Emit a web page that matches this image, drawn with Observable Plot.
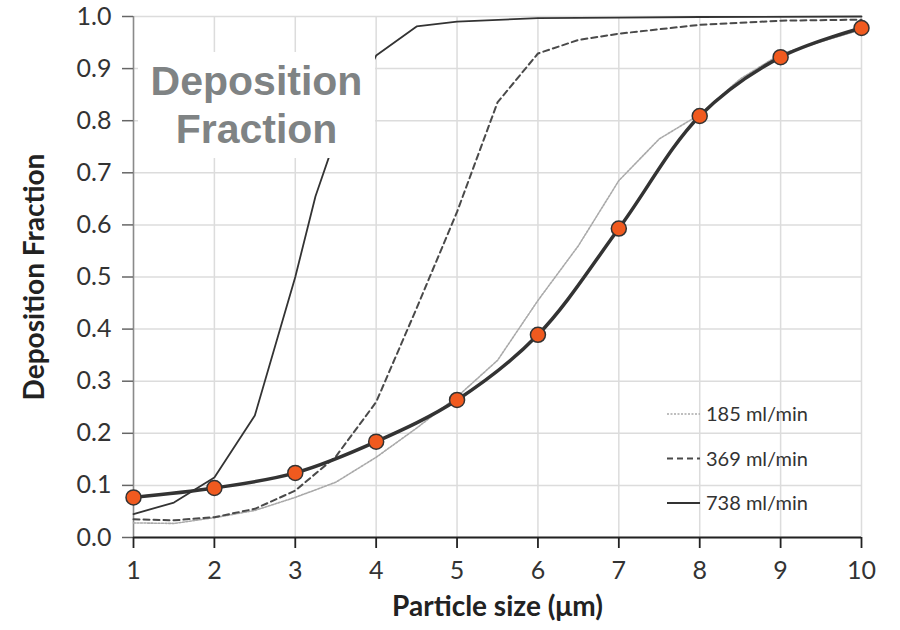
<!DOCTYPE html>
<html><head><meta charset="utf-8">
<script src="https://cdn.jsdelivr.net/npm/d3@7"></script>
<script src="https://cdn.jsdelivr.net/npm/@observablehq/plot@0.6"></script>
<style>
body{margin:0;background:#fff;}
#wrap{position:relative;width:900px;height:630px;overflow:hidden;}
#box{position:absolute;left:138px;top:52px;width:237px;height:106px;background:#fff;
 font-family:"Liberation Sans",Arial,sans-serif;font-weight:bold;font-size:41px;line-height:48px;
 color:#7f8384;text-align:center;padding-top:5px;box-sizing:border-box;}
</style>
</head><body><div id="wrap"></div>
<script>
// ---- data ----
const xTicks = [1, 2, 3, 4, 5, 6, 7, 8, 9, 10];
const yTicks = [0, 0.1, 0.2, 0.3, 0.4, 0.5, 0.6, 0.7, 0.8, 0.9, 1.0];

const fitSizes  = [1, 2, 3, 4, 5, 6, 7, 8, 9, 10];
const fitValues = [0.077, 0.095, 0.124, 0.184, 0.264, 0.389, 0.593, 0.809, 0.922, 0.978];

const sizes185  = [1, 1.5, 2, 2.5, 3, 3.5, 4, 4.5, 5, 5.5, 6, 6.5, 7, 7.5, 8, 8.5, 9, 10];
const values185 = [0.028, 0.027, 0.038, 0.052, 0.077, 0.106, 0.154, 0.21, 0.27, 0.34, 0.455, 0.56, 0.685, 0.765, 0.812, 0.88, 0.928, 0.975];

const sizes369  = [1, 1.5, 2, 2.5, 3, 3.5, 4, 4.5, 5, 5.5, 6, 6.5, 7, 8, 9, 10];
const values369 = [0.035, 0.033, 0.039, 0.055, 0.09, 0.155, 0.26, 0.44, 0.625, 0.835, 0.929, 0.955, 0.967, 0.984, 0.992, 0.994];

const sizes738  = [1, 1.5, 2, 2.5, 3, 3.25, 3.5, 4, 4.5, 5, 6, 7, 8, 10];
const values738 = [0.045, 0.067, 0.115, 0.234, 0.5, 0.655, 0.768, 0.925, 0.981, 0.99, 0.997, 0.998, 0.999, 1.0];

const seriesNames = ["185 ml/min", "369 ml/min", "738 ml/min"];
const xTitle = "Particle size (μm)";
const yTitle = "Deposition Fraction";
const boxTitle = ["Deposition", "Fraction"];

// ---- build tables ----
const rows = (xs, ys) => xs.map((x, i) => ({size: x, value: ys[i]}));
const fit = rows(fitSizes, fitValues);
const s185 = rows(sizes185, values185);
const s369 = rows(sizes369, values369);
const s738 = rows(sizes738, values738);

const styles = [
  {stroke: "#a9a9a9", strokeWidth: 1.6, strokeDasharray: "2,1.5"},
  {stroke: "#4a4a4a", strokeWidth: 2, strokeDasharray: "6,4"},
  {stroke: "#333333", strokeWidth: 1.8, strokeDasharray: null}
];

const chart = Plot.plot({
  width: 900,
  height: 630,
  marginLeft: 133,
  marginRight: 39,
  marginTop: 16,
  marginBottom: 93,
  style: {fontFamily: "Lato, sans-serif", background: "#fff", color: "#333"},
  x: {domain: [1, 10], label: null},
  y: {domain: [0, 1], label: null},
  marks: [
    Plot.gridX(xTicks, {stroke: "#dcdcdc", strokeOpacity: 1, strokeWidth: 1.5}),
    Plot.gridY(yTicks, {stroke: "#dcdcdc", strokeOpacity: 1, strokeWidth: 1.5}),
    Plot.ruleX([xTicks[0]], {stroke: "#8a8a8a", strokeWidth: 1.5}),
    Plot.axisY(yTicks, {tickSize: 11, tickPadding: 11, tickFormat: d => d.toFixed(1), fontSize: 25,
      stroke: "#666", strokeWidth: 1.5, fill: "#333", label: null}),
    Plot.axisX(xTicks, {tickSize: 11, tickPadding: 13, fontSize: 25,
      stroke: "#222", strokeWidth: 1.8, fill: "#333", label: null}),
    Plot.ruleY([yTicks[0]], {stroke: "#222", strokeWidth: 2}),
    Plot.line(s185, {x: "size", y: "value", ...styles[0]}),
    Plot.line(s369, {x: "size", y: "value", ...styles[1]}),
    Plot.line(s738, {x: "size", y: "value", ...styles[2]}),
    Plot.line(fit, {x: "size", y: "value", curve: "catmull-rom", stroke: "#333", strokeWidth: 3.5}),
    Plot.dot(fit, {x: "size", y: "value", r: 7.5, fill: "#f05a1f", stroke: "#333", strokeWidth: 1.5}),
    Plot.text([xTitle], {frameAnchor: "bottom", textAnchor: "middle", dy: 78, fontSize: 28, fontWeight: "bold", fill: "#222"}),
    Plot.text([yTitle], {frameAnchor: "left", textAnchor: "middle", rotate: -90, dx: -98, fontSize: 28, fontWeight: "bold", fill: "#222"})
  ]
});

const wrap = document.getElementById("wrap");
wrap.appendChild(chart);

// annotation box
const box = document.createElement("div");
box.id = "box";
box.innerHTML = boxTitle.join("<br>");
wrap.appendChild(box);

// legend
const ns = "http://www.w3.org/2000/svg";
const lg = document.createElementNS(ns, "svg");
lg.setAttribute("width", 200);
lg.setAttribute("height", 130);
lg.style.position = "absolute";
lg.style.left = "660px";
lg.style.top = "396px";
seriesNames.forEach((name, i) => {
  const cy = 18 + i * 44.5;
  const l = document.createElementNS(ns, "line");
  l.setAttribute("x1", 7); l.setAttribute("x2", 40);
  l.setAttribute("y1", cy); l.setAttribute("y2", cy);
  l.setAttribute("stroke", styles[i].stroke);
  l.setAttribute("stroke-width", styles[i].strokeWidth);
  if (styles[i].strokeDasharray) l.setAttribute("stroke-dasharray", styles[i].strokeDasharray);
  lg.appendChild(l);
  const t = document.createElementNS(ns, "text");
  t.setAttribute("x", 46); t.setAttribute("y", cy);
  t.setAttribute("dy", "0.35em");
  t.setAttribute("font-family", "Lato, sans-serif");
  t.setAttribute("font-size", 20);
  t.setAttribute("fill", "#333");
  t.textContent = name;
  lg.appendChild(t);
});
wrap.appendChild(lg);
</script>
</body></html>
